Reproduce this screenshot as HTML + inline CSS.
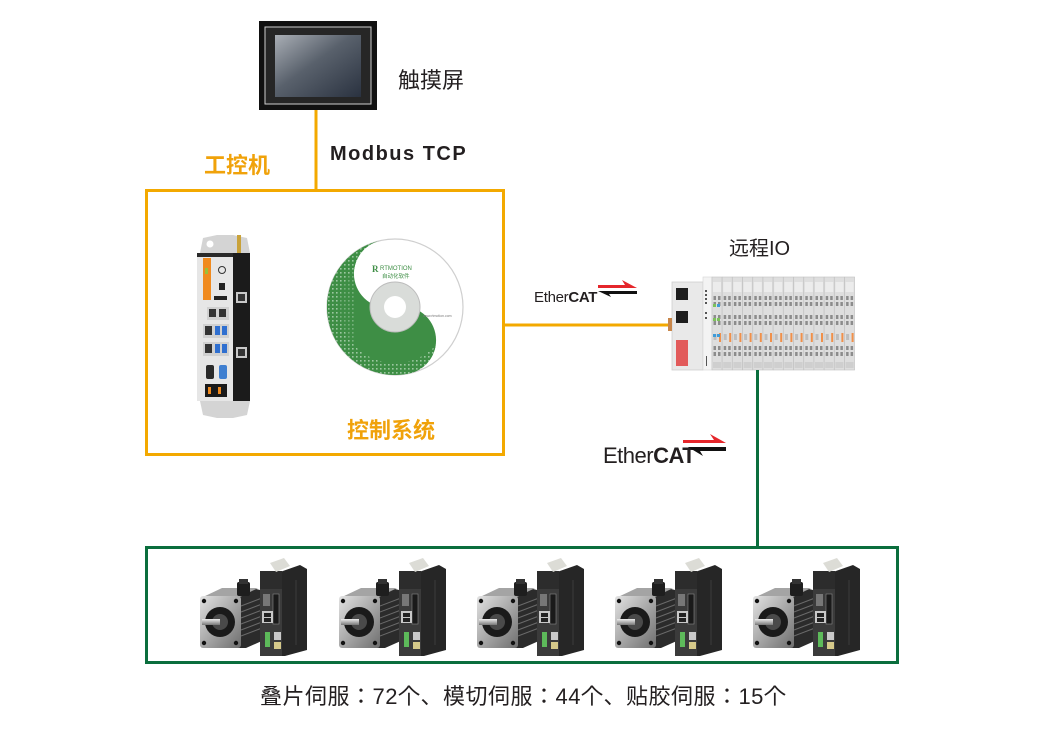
<!DOCTYPE html>
<html><head><meta charset="utf-8">
<style>
html,body{margin:0;padding:0;background:#fff;}
svg{display:block;}
</style></head>
<body>
<svg width="1042" height="735" viewBox="0 0 1042 735" xmlns="http://www.w3.org/2000/svg">
<defs>
  <linearGradient id="scr" x1="0" y1="0" x2="1" y2="1">
    <stop offset="0" stop-color="#a9aeb5"/>
    <stop offset="0.45" stop-color="#59616c"/>
    <stop offset="1" stop-color="#2a3240"/>
  </linearGradient>
  <linearGradient id="silver" x1="0" y1="0" x2="1" y2="1">
    <stop offset="0" stop-color="#e2e2e2"/>
    <stop offset="0.5" stop-color="#a8a8a8"/>
    <stop offset="1" stop-color="#6e6e6e"/>
  </linearGradient>
  <linearGradient id="shaft" x1="0" y1="0" x2="0" y2="1">
    <stop offset="0" stop-color="#eee"/>
    <stop offset="1" stop-color="#777"/>
  </linearGradient>
  <pattern id="dots" width="4" height="4" patternUnits="userSpaceOnUse">
    <rect width="4" height="4" fill="#3e8e45"/>
    <rect x="0" y="0" width="1.6" height="1.6" fill="#9cc8a0"/>
  </pattern>
  <clipPath id="yy">
    <path transform="rotate(-12 395 307)" d="M395,239 A68,68 0 0 0 395,375 A34,34 0 0 0 395,307 A34,34 0 0 1 395,239 Z"/>
  </clipPath>
  <g id="servo">
    <polygon points="237,597 256,589 264,591 264,640 246,648 237,648" fill="#2b2b2b"/>
    <g stroke="#6a6a6a" stroke-width="1">
      <line x1="241" y1="606" x2="262" y2="598"/>
      <line x1="241" y1="612" x2="262" y2="604"/>
      <line x1="241" y1="618" x2="262" y2="610"/>
      <line x1="241" y1="624" x2="262" y2="616"/>
      <line x1="241" y1="630" x2="262" y2="622"/>
      <line x1="241" y1="636" x2="262" y2="628"/>
    </g>
    <polygon points="203,597 240,597 258,588 222,588" fill="#a4a4a4"/>
    <rect x="237" y="582" width="13" height="14" rx="2" fill="#1e1e1e"/>
    <rect x="239" y="579" width="9" height="5" fill="#333"/>
    <rect x="200" y="596" width="41" height="52" rx="3" fill="url(#silver)"/>
    <circle cx="204" cy="601" r="2.2" fill="#111"/>
    <circle cx="236" cy="601" r="2.2" fill="#111"/>
    <circle cx="204" cy="643" r="2.2" fill="#111"/>
    <circle cx="236" cy="643" r="2.2" fill="#111"/>
    <circle cx="220" cy="622" r="15" fill="#1a1a1a"/>
    <circle cx="220" cy="622" r="8" fill="#4a4a4a"/>
    <rect x="202" y="619" width="18" height="6" fill="url(#shaft)"/>
    <polygon points="280,572 300,565 307,569 307,650 285,656 280,656" fill="#262626"/>
    <line x1="296" y1="580" x2="296" y2="645" stroke="#3c3c3c"/>
    <rect x="260" y="571" width="22" height="85" fill="#3b3b3b"/>
    <rect x="260" y="571" width="22" height="18" fill="#2c2c2c"/>
    <polygon points="270,563 284,558 290,566 276,572" fill="#dcdcd6"/>
    <rect x="263" y="594" width="7" height="12" fill="#777"/>
    <rect x="273" y="594" width="6" height="30" fill="#1a1a1a" stroke="#888" stroke-width="0.6"/>
    <rect x="262" y="611" width="11" height="12" fill="#c8c8c8"/>
    <rect x="264" y="613" width="7" height="4" fill="#222"/>
    <rect x="264" y="618" width="7" height="4" fill="#222"/>
    <rect x="265" y="632" width="5" height="15" fill="#5dba5a"/>
    <rect x="274" y="632" width="7" height="8" fill="#c9c9c9"/>
    <rect x="274" y="642" width="7" height="7" fill="#d5c98a"/>
  </g>
  <g id="mod">
    <rect x="0" y="277" width="10" height="93" fill="#dedede" stroke="#c2c2c2" stroke-width="0.6"/>
    <rect x="1" y="282" width="8" height="10" fill="#ececec"/>
    <g fill="#8c8c8c">
      <rect x="1.5" y="296" width="2.5" height="4"/><rect x="6" y="296" width="2.5" height="4"/>
      <rect x="1.5" y="302" width="2.5" height="4"/><rect x="6" y="302" width="2.5" height="4"/>
      <rect x="1.5" y="315" width="2.5" height="4"/><rect x="6" y="315" width="2.5" height="4"/>
      <rect x="1.5" y="321" width="2.5" height="4"/><rect x="6" y="321" width="2.5" height="4"/>
      <rect x="1.5" y="346" width="2.5" height="4"/><rect x="6" y="346" width="2.5" height="4"/>
      <rect x="1.5" y="352" width="2.5" height="4"/><rect x="6" y="352" width="2.5" height="4"/>
    </g>
    <rect x="7" y="333" width="2" height="9" fill="#f0904a"/>
    <rect x="1.5" y="334" width="3" height="6" fill="#bdbdbd"/>
    <rect x="1" y="362" width="8" height="6" fill="#cfcfcf"/>
  </g>
</defs>

<!-- Touch screen -->
<rect x="259" y="21" width="118" height="89" fill="#111"/>
<rect x="265" y="27" width="106" height="77" fill="#262626" stroke="#cfcfcf" stroke-width="1"/>
<rect x="275" y="35" width="86" height="62" fill="url(#scr)"/>
<text x="398" y="88" font-family="Liberation Sans, Noto Sans CJK SC, sans-serif" font-size="22" fill="#231f20">触摸屏</text>

<!-- Lines orange -->
<line x1="316" y1="110" x2="316" y2="190" stroke="#f3a900" stroke-width="3"/>
<rect x="146.5" y="190.5" width="357" height="264" fill="none" stroke="#f3a900" stroke-width="3"/>
<line x1="503" y1="325" x2="670" y2="325" stroke="#f3a900" stroke-width="3"/>

<text x="330" y="160" font-family="Liberation Sans, sans-serif" font-size="20" font-weight="bold" letter-spacing="1.5" fill="#231f20">Modbus TCP</text>
<text x="204" y="173" font-family="Liberation Sans, Noto Sans CJK SC, sans-serif" font-size="22" font-weight="bold" fill="#f0a20a">工控机</text>
<text x="347" y="438" font-family="Liberation Sans, Noto Sans CJK SC, sans-serif" font-size="22" font-weight="bold" fill="#f0a20a">控制系统</text>

<!-- IPC -->
<polygon points="200,253 203,238 217,235 233,235 247,238 250,253" fill="#d4d4d4"/>
<circle cx="210" cy="244" r="3.5" fill="#fff"/>
<rect x="237" y="235" width="4" height="18" fill="#c9a23a"/>
<rect x="197" y="253" width="53" height="148" fill="#e6e6e6"/>
<rect x="197" y="253" width="53" height="4" fill="#2a2a2a"/>
<rect x="233" y="253" width="17" height="148" fill="#1b1b1b"/>
<rect x="203" y="258" width="8" height="42" fill="#f08a1e"/>
<rect x="205" y="268" width="3" height="6" fill="#9bbf3a"/>
<circle cx="222" cy="270" r="3.5" fill="none" stroke="#333" stroke-width="1"/>
<rect x="219" y="283" width="6" height="7" fill="#222"/>
<rect x="214" y="296" width="13" height="4" fill="#222"/>
<rect x="207" y="307" width="22" height="13" fill="#d0d0d0"/>
<rect x="209" y="309" width="7" height="8" fill="#333"/>
<rect x="219" y="309" width="7" height="8" fill="#333"/>
<rect x="203" y="324" width="26" height="14" fill="#d0d0d0"/>
<rect x="205" y="326" width="7" height="9" fill="#333"/>
<rect x="215" y="326" width="5" height="9" fill="#2f6fd0"/>
<rect x="222" y="326" width="5" height="9" fill="#2f6fd0"/>
<rect x="203" y="342" width="26" height="14" fill="#d0d0d0"/>
<rect x="205" y="344" width="7" height="9" fill="#333"/>
<rect x="215" y="344" width="5" height="9" fill="#2f6fd0"/>
<rect x="222" y="344" width="5" height="9" fill="#2f6fd0"/>
<rect x="206" y="365" width="8" height="14" rx="2" fill="#2a2a2a"/>
<rect x="219" y="365" width="8" height="14" rx="2" fill="#3f7fd0"/>
<rect x="205" y="384" width="22" height="13" fill="#1a1a1a"/>
<rect x="208" y="387" width="3" height="7" fill="#f08a1e"/>
<rect x="218" y="387" width="3" height="7" fill="#f08a1e"/>
<rect x="236" y="292" width="11" height="11" fill="#c8c8c8"/>
<rect x="238" y="294" width="7" height="7" fill="#333"/>
<rect x="236" y="347" width="11" height="11" fill="#c8c8c8"/>
<rect x="238" y="349" width="7" height="7" fill="#333"/>
<polygon points="200,401 250,401 247,415 233,418 217,418 203,415" fill="#d4d4d4"/>

<!-- CD -->
<circle cx="395" cy="307" r="68" fill="#fff" stroke="#cfcfcf" stroke-width="1.2"/>
<g clip-path="url(#yy)">
  <rect x="320" y="235" width="150" height="145" fill="#3e8e45"/>
  <circle cx="395" cy="307" r="62" fill="none" stroke="url(#dots)" stroke-width="12"/>
  <rect x="320" y="235" width="34" height="145" fill="url(#dots)" opacity="0.6"/>
</g>
<circle cx="395" cy="307" r="25" fill="#d9dcd9" stroke="#bcbcbc" stroke-width="1"/>
<circle cx="395" cy="307" r="11" fill="#fff"/>
<text x="372" y="272" font-family="Liberation Serif, serif" font-size="9" font-weight="bold" fill="#3e8e45">R</text>
<text x="380" y="270" font-family="Liberation Sans, sans-serif" font-size="6" fill="#3e8e45">RTMOTION</text>
<text x="382" y="278" font-family="Liberation Sans, Noto Sans CJK SC, sans-serif" font-size="5.5" fill="#3e8e45">自动化软件</text>
<text x="423" y="317" font-family="Liberation Sans, sans-serif" font-size="3.5" fill="#777">www.rtmotion.com</text>

<!-- EtherCAT 1 -->
<text x="534" y="302" font-family="Liberation Sans, sans-serif" font-size="15" fill="#231f20" letter-spacing="-0.3">Ether<tspan font-weight="bold">CAT</tspan></text>
<polygon points="598,285 625,285 622,280 637,288 598,288" fill="#e5262b"/>
<polygon points="637,291 598,291 611,297 609,294 637,294" fill="#111"/>

<!-- Remote IO -->
<text x="729" y="255" font-family="Liberation Sans, Noto Sans CJK SC, sans-serif" font-size="20" fill="#231f20">远程IO</text>
<rect x="672" y="282" width="31" height="88" fill="#e9e9e9" stroke="#cfcfcf" stroke-width="0.8"/>
<rect x="703" y="277" width="9" height="93" fill="#f3f3f3" stroke="#d5d5d5" stroke-width="0.6"/>
<rect x="676" y="288" width="12" height="12" fill="#1e1e1e"/>
<rect x="676" y="311" width="12" height="12" fill="#1e1e1e"/>
<rect x="668" y="318" width="4" height="13" fill="#c8864a"/>
<rect x="676" y="340" width="12" height="26" fill="#e25b5b"/>
<g fill="#555">
  <rect x="705" y="290" width="2" height="2"/><rect x="705" y="294" width="2" height="2"/>
  <rect x="705" y="298" width="2" height="2"/><rect x="705" y="302" width="2" height="2"/>
  <rect x="705" y="312" width="2" height="2"/><rect x="705" y="317" width="2" height="2"/>
  <rect x="706" y="356" width="1" height="10"/>
</g>
<use href="#mod" x="712"/>
<use href="#mod" x="722.2"/>
<use href="#mod" x="732.4"/>
<use href="#mod" x="742.6"/>
<use href="#mod" x="752.8"/>
<use href="#mod" x="763"/>
<use href="#mod" x="773.2"/>
<use href="#mod" x="783.4"/>
<use href="#mod" x="793.6"/>
<use href="#mod" x="803.8"/>
<use href="#mod" x="814"/>
<use href="#mod" x="824.2"/>
<use href="#mod" x="834.4"/>
<use href="#mod" x="844.6"/>
<rect x="713" y="304" width="3" height="3" fill="#7cc25a"/>
<rect x="717" y="304" width="3" height="3" fill="#3f9bd8"/>
<rect x="713" y="318" width="3" height="3" fill="#7cc25a"/>
<rect x="717" y="318" width="3" height="3" fill="#7cc25a"/>
<rect x="713" y="334" width="3" height="3" fill="#3f9bd8"/>
<rect x="717" y="334" width="3" height="3" fill="#3f9bd8"/>

<!-- Green line & box -->
<line x1="757.5" y1="370" x2="757.5" y2="547" stroke="#0a6e3d" stroke-width="3"/>
<rect x="146.5" y="547.5" width="751" height="115" fill="none" stroke="#0a6e3d" stroke-width="3"/>

<!-- EtherCAT 2 -->
<text x="603" y="463" font-family="Liberation Sans, sans-serif" font-size="22" fill="#231f20" letter-spacing="-0.5">Ether<tspan font-weight="bold">CAT</tspan></text>
<polygon points="683,440 714,440 710,434 726,443 683,443" fill="#e5262b"/>
<polygon points="726,447 688,447 703,456 700,451 726,451" fill="#111"/>

<!-- Servos -->
<use href="#servo" x="0"/>
<use href="#servo" x="139"/>
<use href="#servo" x="277"/>
<use href="#servo" x="415"/>
<use href="#servo" x="553"/>

<!-- bottom text -->
<text x="260" y="704" font-family="Liberation Sans, Noto Sans CJK JP, sans-serif" font-size="22" letter-spacing="0.5" fill="#231f20">叠片伺服：72个、模切伺服：44个、贴胶伺服：15个</text>
</svg>
</body></html>
